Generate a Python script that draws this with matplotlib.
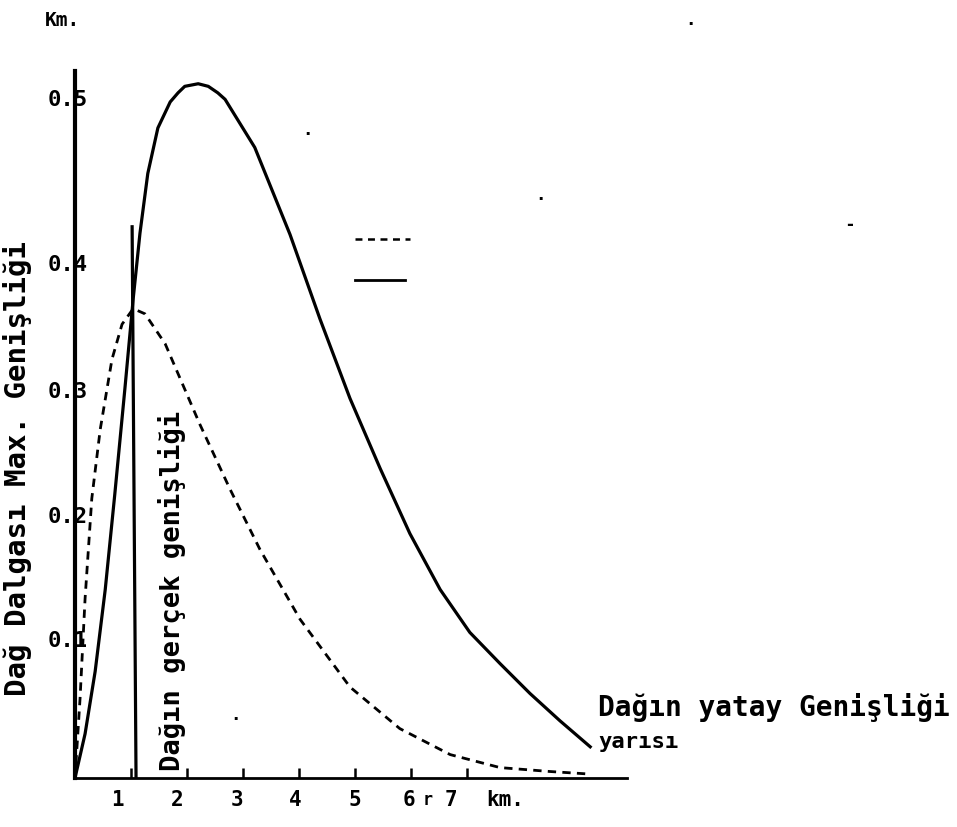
import matplotlib
matplotlib.use("Agg")
import matplotlib.pyplot as plt

plt.rcParams['lines.scale_dashes'] = False
FONT = ['DejaVu Sans Mono', 'Liberation Mono']

# ---- data (km, value) ----
solid_x = [0.0, 0.18, 0.36, 0.54, 0.71, 0.89, 1.04, 1.16, 1.30, 1.48, 1.70, 1.84, 1.96,
           2.20, 2.38, 2.55, 2.68, 3.21, 3.84, 4.375, 4.91, 5.45, 5.98, 6.52, 7.05,
           7.59, 8.125, 8.66, 9.20]
solid_y = [0.0, 0.034, 0.082, 0.145, 0.218, 0.299, 0.369, 0.419, 0.465, 0.500, 0.520,
           0.527, 0.532, 0.534, 0.532, 0.527, 0.522, 0.485, 0.418, 0.353, 0.292, 0.238,
           0.188, 0.145, 0.112, 0.088, 0.065, 0.044, 0.024]

dash_x = [0.0, 0.09, 0.18, 0.30, 0.45, 0.66, 0.84, 1.04, 1.25, 1.61, 2.23, 2.77,
          3.30, 4.02, 4.91, 5.80, 6.70, 7.59, 8.48, 9.20]
dash_y = [0.0, 0.061, 0.138, 0.215, 0.268, 0.322, 0.349, 0.361, 0.357, 0.334, 0.272,
          0.222, 0.176, 0.122, 0.070, 0.038, 0.018, 0.008, 0.005, 0.003]

true_width_x = [1.02, 1.09]
true_width_y = [0.424, 0.0]

x_ticks = [1, 2, 3, 4, 5, 6, 7]
x_tick_labels = ['1', '2', '3', '4', '5', '6', '7']
x_label_pos = [0.75, 1.82, 2.89, 3.93, 5.0, 5.96, 6.71]
y_tick_labels = ['0.5', '0.4', '0.3', '0.2', '0.1']
y_label_pos = [0.522, 0.395, 0.298, 0.2015, 0.106]

W, H = 957, 828
fig = plt.figure(figsize=(W / 100, H / 100), dpi=100)
L, R, B, T = 75, 627, 779, 72
ax = fig.add_axes([L / W, 1 - B / H, (R - L) / W, (B - T) / H])
ax.set_xlim(0, 9.857)
ax.set_ylim(0, 0.5438)

ax.plot(solid_x, solid_y, color='black', lw=2.3, solid_joinstyle='round')
ax.plot(dash_x, dash_y, color='black', lw=2.0, dashes=(6, 4.5))
ax.plot(true_width_x, true_width_y, color='black', lw=2.3)

for s in ['top', 'right']:
    ax.spines[s].set_visible(False)
ax.spines['left'].set_linewidth(3.0)
ax.spines['bottom'].set_linewidth(2.0)

ax.set_xticks(x_ticks)
ax.set_xticklabels([])
ax.tick_params(axis='x', direction='in', length=7, width=1.8)
ax.set_yticks([])

xt = ax.get_xaxis_transform()
for p, lab in zip(x_label_pos, x_tick_labels):
    ax.text(p, -0.03, lab, transform=xt, ha='center', va='center',
            fontfamily=FONT, fontweight='bold', fontsize=15)
ax.text(6.29, -0.03, 'r', transform=xt, ha='center', va='center',
        fontfamily=FONT, fontweight='bold', fontsize=12)
ax.text(7.68, -0.03, 'km.', transform=xt, ha='center', va='center',
        fontfamily=FONT, fontweight='bold', fontsize=15)

yt = ax.get_yaxis_transform()
for v, lab in zip(y_label_pos, y_tick_labels):
    ax.text(0.024, v, lab, transform=yt, ha='right', va='center',
            fontfamily=FONT, fontweight='bold', fontsize=16)

# legend keys without labels
ax.plot([0.507, 0.607], [0.763, 0.763], transform=ax.transAxes, color='black',
        lw=1.8, dashes=(5, 4))
ax.plot([0.507, 0.598], [0.705, 0.705], transform=ax.transAxes, color='black', lw=2.0)

# rotated labels
fig.text(18 / W, 1 - 469 / H, 'Dağ Dalgası Max. Genişliği', rotation=90,
         ha='center', va='center', fontfamily=FONT, fontweight='bold', fontsize=21)
ax.text(1.73, 0.145, 'Dağın gerçek genişliği', rotation=90, ha='center', va='center',
        fontfamily=FONT, fontweight='bold', fontsize=19.5)

fig.text(45 / W, 1 - 20 / H, 'Km.', ha='left', va='center', fontfamily=FONT,
         fontweight='bold', fontsize=14)
fig.text(598 / W, 1 - 708 / H, 'Dağın yatay Genişliği', ha='left', va='center',
         fontfamily=FONT, fontweight='bold', fontsize=20)
fig.text(598 / W, 1 - 742 / H, 'yarısı', ha='left', va='center', fontfamily=FONT,
         fontweight='bold', fontsize=16)

# scan specks
for px, py, ch in [(690, 20, '.'), (307, 130, '.'), (540, 195, '.'), (850, 225, '-'),
                   (235, 715, '.')]:
    fig.text(px / W, 1 - py / H, ch, ha='center', va='center', fontsize=12,
             fontweight='bold', color='black')

fig.savefig('out.png', dpi=100)
